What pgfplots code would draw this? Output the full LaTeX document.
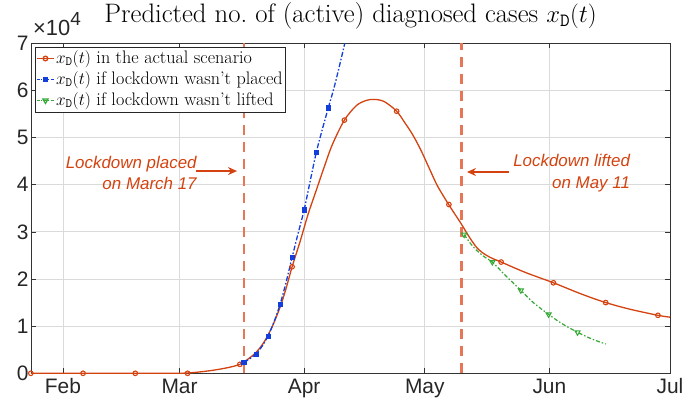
\documentclass[border=0pt]{standalone}
\usepackage{fontspec}
\usepackage{pgfplots}
\pgfplotsset{compat=1.18}
\usetikzlibrary{arrows.meta}
\newfontfamily\helv{Liberation Sans}
\definecolor{cred}{RGB}{212,66,16}
\definecolor{cdash}{RGB}{230,118,86}
\definecolor{cblue}{RGB}{18,62,220}
\definecolor{cgreen}{RGB}{52,168,52}
\definecolor{cgrid}{RGB}{218,218,218}
\begin{document}
\begin{tikzpicture}
\path[use as bounding box] (-31bp,-36.7bp) rectangle (655bp,373.3bp);
\begin{axis}[
  name=ax,
  at={(0,0)}, anchor=south west,
  scale only axis, width=639bp, height=330bp,
  xmin=23.05, xmax=182, ymin=0, ymax=7,
  clip=false,
  xtick={31,60,91,121,152,182},
  xticklabels={Feb,Mar,Apr,May,Jun,Jul},
  ytick={0,1,2,3,4,5,6,7},
  yticklabels={0,1,2,3,4,5,6,7},
  tick label style={font=\fontsize{21}{21}\selectfont\helv, text=black!85},
  xticklabel style={yshift=-2bp},
  yticklabel style={xshift=1bp},
  tick align=inside, major tick length=5bp,
  tick style={black!80, line width=0.7bp},
  axis line style={black!80, line width=0.7bp},
  grid=major, major grid style={cgrid, line width=0.8bp},
  title={Predicted no.\ of (active) diagnosed cases $x_{\mathtt{D}}(t)$},
  title style={font=\fontsize{26.8}{30}\selectfont, at={(0.5,1)}, anchor=base, yshift=15bp},
  legend style={at={(0,1)}, anchor=north west, xshift=4bp, yshift=-3.4bp,
    font=\fontsize{18.2}{20}\selectfont, draw=black!85, line width=0.6bp,
    inner sep=1bp, row sep=0bp,
    nodes={inner ysep=1bp, inner xsep=1.5bp, text height=14bp, text depth=5bp}},
  legend cell align=left,
]
% lockdown lines
\addplot[cdash, line width=2.6bp, dash pattern=on 10bp off 7bp, forget plot] coordinates {(76,0) (76,7)};
\addplot[cdash, line width=2.6bp, dash pattern=on 10bp off 7bp, forget plot] coordinates {(130.1,0) (130.1,7)};

% actual scenario
\addplot[cred, line width=1.3bp, smooth, forget plot] coordinates {
(23,0) (36,0) (49,0) (58,0) (61,0.003) (64,0.02) (68,0.06) (72,0.12) (75,0.19)
(77,0.30) (79,0.44) (81,0.66) (83,0.98) (85,1.40) (86.5,1.80) (88,2.26)
(90,2.80) (92,3.38) (94,3.88) (96,4.38) (98,4.85) (101,5.37) (104,5.68)
(106.5,5.79) (108.6,5.81) (111,5.76) (114,5.56) (116,5.32) (118,5.06)
(120,4.74) (122,4.37) (124,4.00) (126,3.71) (128,3.44) (130,3.18) (132,2.90)
(134,2.66) (136,2.52) (138,2.43) (140,2.36) (146,2.14) (153,1.92)
(160,1.68) (166,1.50) (172,1.36) (179,1.23) (182,1.19)};
\addplot[cred, only marks, mark=o, mark size=2.3bp, line width=1.1bp, forget plot] coordinates {
(23,0) (36,0) (49,0) (62,0) (75,0.19) (88,2.26) (101,5.37) (114,5.56)
(127,3.58) (140,2.36) (153,1.92) (166,1.50) (179,1.23)};

% no lockdown
\addplot[cblue, line width=1.3bp, smooth, dash pattern=on 5bp off 2bp on 1.5bp off 2bp, forget plot] coordinates {
(76,0.23) (77.5,0.31) (79,0.41) (80.5,0.57) (82,0.79) (83.5,1.09) (85,1.46)
(86.5,1.93) (88,2.46) (89.5,2.97) (91,3.47) (92.5,4.08) (94,4.68) (95.5,5.17)
(97,5.63) (98.5,6.08) (100,6.6) (101.1,7.0)};
\addplot[cblue, only marks, mark=square*, mark size=2.1bp, line width=0.6bp, forget plot] coordinates {
(76,0.23) (79,0.41) (82,0.79) (85,1.46) (88,2.46) (91,3.47) (94,4.68) (97,5.63)};

% lockdown not lifted
\addplot[cgreen, line width=1.2bp, smooth, dash pattern=on 4bp off 2bp on 1.5bp off 2bp, forget plot] coordinates {
(130.8,2.94) (132.5,2.74) (134,2.60) (136,2.46) (137.8,2.36) (141,2.08)
(144.9,1.76) (148,1.50) (151.8,1.25) (155,1.06) (159,0.87) (162.5,0.73) (166,0.62)};
\addplot[cgreen, only marks, mark=triangle, mark size=3bp, line width=1bp, mark options={rotate=180}, forget plot] coordinates {
(130.8,2.94) (137.8,2.36) (144.9,1.76) (151.8,1.25) (159,0.87)};

\addlegendimage{cred, line width=1.3bp, mark=o, mark size=2.3bp}
\addlegendentry{$x_{\mathtt{D}}(t)$ in the actual scenario}
\addlegendimage{cblue, line width=1.3bp, dash pattern=on 3bp off 1.5bp on 1bp off 1.5bp, mark=square*, mark size=2bp, mark options={solid}}
\addlegendentry{$x_{\mathtt{D}}(t)$ if lockdown wasn't placed}
\addlegendimage{cgreen, line width=1.2bp, dash pattern=on 3bp off 1.5bp on 1bp off 1.5bp, mark=triangle, mark size=3bp, mark options={solid, rotate=180}}
\addlegendentry{$x_{\mathtt{D}}(t)$ if lockdown wasn't lifted}

% annotations
\node[anchor=east, align=right, inner sep=0pt, font=\fontsize{17}{21.6}\selectfont\helv\itshape, text=cred] at (axis cs:64.3,4.25) {Lockdown placed\\on March 17};
\draw[cred, line width=1.3bp, -{Stealth[length=9bp, width=8bp]}] (axis cs:64.2,4.29) -- (axis cs:74.3,4.29);
\node[anchor=east, align=right, inner sep=0pt, font=\fontsize{17}{21.6}\selectfont\helv\itshape, text=cred] at (axis cs:172.1,4.25) {Lockdown lifted\\on May 11};
\draw[cred, line width=1.3bp, -{Stealth[length=9bp, width=8bp]}] (axis cs:142,4.27) -- (axis cs:131.5,4.27);
\end{axis}
\node[anchor=base west, inner sep=0pt, font=\fontsize{22}{22}\selectfont\helv, text=black!85] at ([xshift=2bp, yshift=8bp]ax.north west) {×10\raisebox{0.45em}{\fontsize{19}{19}\selectfont 4}};
\end{tikzpicture}
\end{document}
